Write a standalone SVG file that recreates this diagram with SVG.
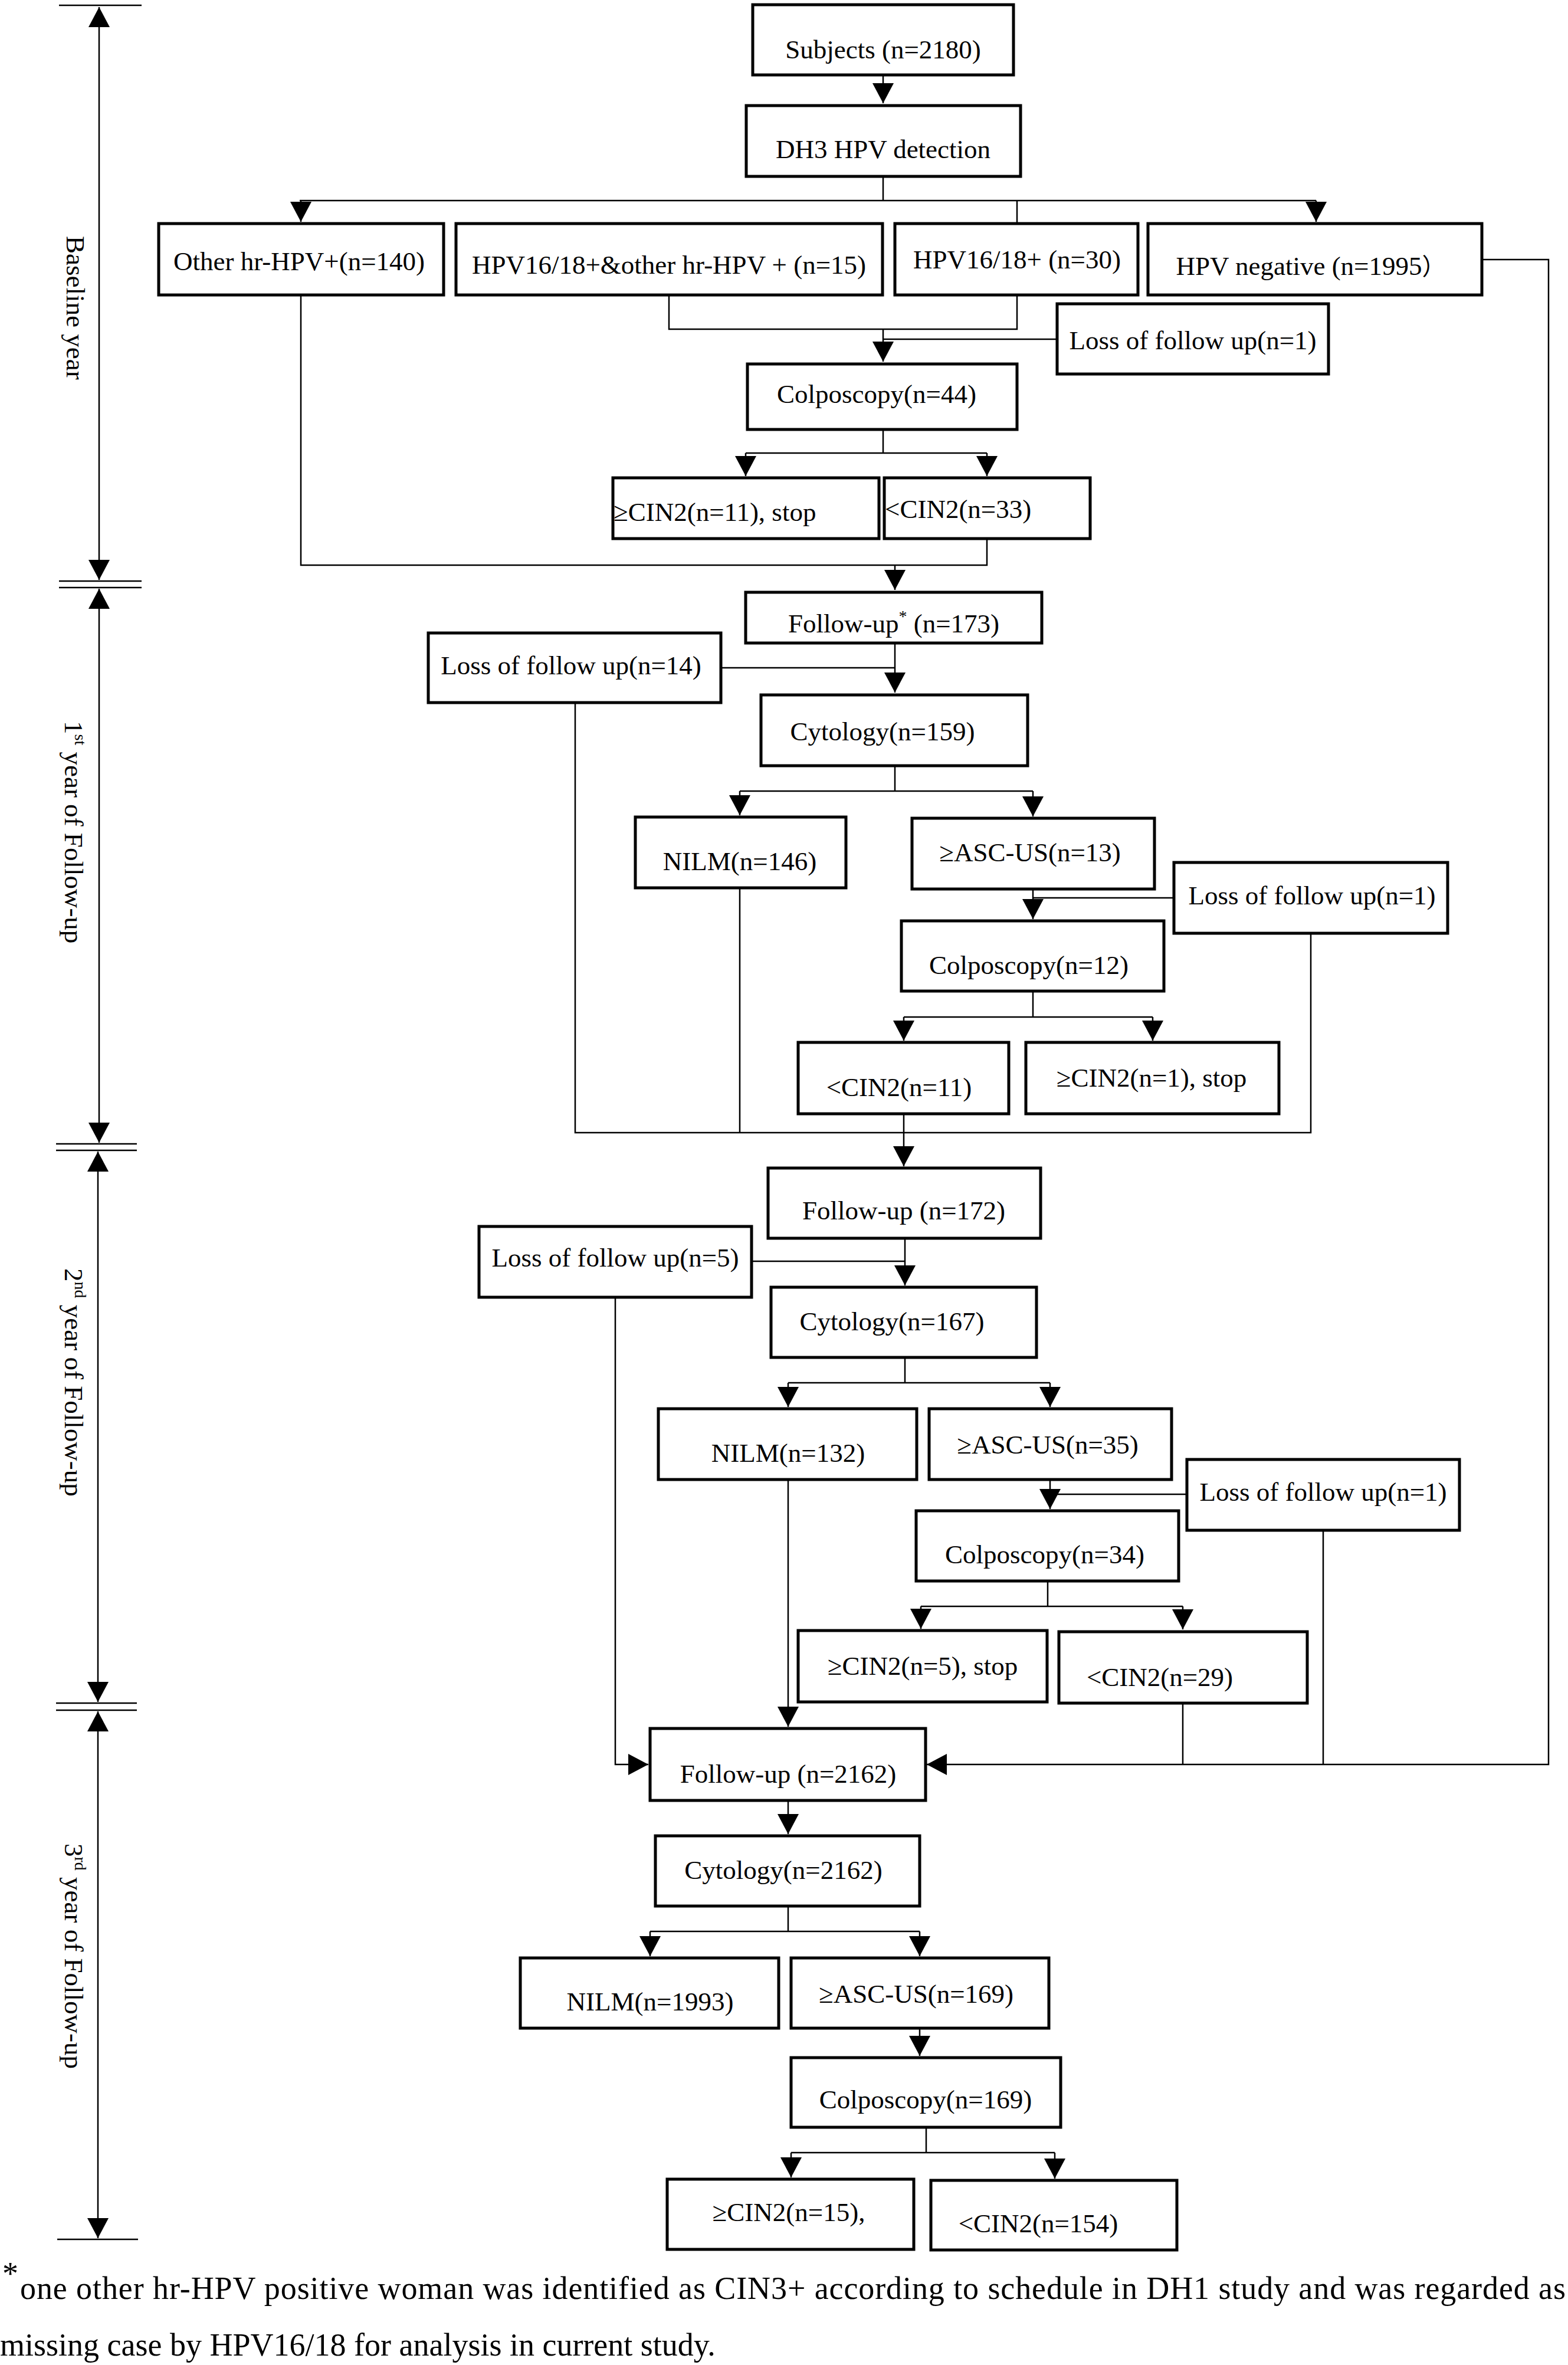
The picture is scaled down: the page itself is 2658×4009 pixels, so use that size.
<svg xmlns="http://www.w3.org/2000/svg" width="2658" height="4009" viewBox="0 0 2658 4009">
<defs>
<marker id="ah" markerUnits="userSpaceOnUse" markerWidth="34" markerHeight="36" refX="34" refY="18" orient="auto-start-reverse" viewBox="0 0 34 36">
<path d="M0,0 L34,18 L0,36 Z" fill="#000"/>
</marker>
<style>
.box{fill:#fff;stroke:#000;stroke-width:5}
.t{font-family:"Liberation Serif","Times New Roman",serif;font-size:45px;fill:#000}
.c{text-anchor:middle}
.ln{fill:none;stroke:#000;stroke-width:2.5}
.ar{fill:none;stroke:#000;stroke-width:2.5;marker-end:url(#ah)}
.tl{fill:none;stroke:#000;stroke-width:2.5;marker-start:url(#ah);marker-end:url(#ah)}
.fn{font-family:"Liberation Serif","Times New Roman",serif;font-size:54px;fill:#000}
</style>
</defs>
<rect width="2658" height="4009" fill="#fff"/>

<g id="timeline">
<line class="ln" x1="100" y1="9" x2="240" y2="9"/>
<line class="tl" x1="168" y1="12" x2="168" y2="983"/>
<line class="ln" x1="100" y1="985" x2="240" y2="985"/>
<line class="ln" x1="100" y1="996" x2="240" y2="996"/>
<line class="tl" x1="168" y1="998" x2="168" y2="1937"/>
<line class="ln" x1="95" y1="1939" x2="232" y2="1939"/>
<line class="ln" x1="95" y1="1950" x2="232" y2="1950"/>
<line class="tl" x1="166" y1="1952" x2="166" y2="2885"/>
<line class="ln" x1="95" y1="2887" x2="232" y2="2887"/>
<line class="ln" x1="95" y1="2899" x2="232" y2="2899"/>
<line class="tl" x1="166" y1="2901" x2="166" y2="3794"/>
<line class="ln" x1="97" y1="3796" x2="234" y2="3796"/>
<text class="t" transform="translate(113,400) rotate(90)">Baseline year</text>
<text class="t" transform="translate(110,1222) rotate(90)">1<tspan font-size="28" dy="-17">st</tspan><tspan dy="17"> year of Follow-up</tspan></text>
<text class="t" transform="translate(110,2150) rotate(90)">2<tspan font-size="28" dy="-17">nd</tspan><tspan dy="17"> year of Follow-up</tspan></text>
<text class="t" transform="translate(110,3125) rotate(90)">3<tspan font-size="28" dy="-17">rd</tspan><tspan dy="17"> year of Follow-up</tspan></text>
</g>

<g id="connectors">
<!-- baseline -->
<line class="ar" x1="1497" y1="129" x2="1497" y2="175"/>
<line class="ln" x1="1497" y1="301" x2="1497" y2="340"/>
<line class="ln" x1="508" y1="340" x2="2231" y2="340"/>
<line class="ar" x1="510" y1="340" x2="510" y2="376"/>
<line class="ar" x1="2231" y1="340" x2="2231" y2="376"/>
<line class="ln" x1="1724" y1="340" x2="1724" y2="377"/>
<polyline class="ln" points="1134,502 1134,558 1724,558 1724,502"/>
<line class="ar" x1="1497" y1="558" x2="1497" y2="613"/>
<line class="ln" x1="1790" y1="575" x2="1497" y2="575"/>
<line class="ln" x1="1497" y1="730" x2="1497" y2="768"/>
<line class="ln" x1="1264" y1="768" x2="1673" y2="768"/>
<line class="ar" x1="1264" y1="768" x2="1264" y2="807"/>
<line class="ar" x1="1673" y1="768" x2="1673" y2="807"/>
<polyline class="ln" points="510,502 510,958 1673,958 1673,915"/>
<line class="ar" x1="1517" y1="958" x2="1517" y2="1000"/>
<polyline class="ar" points="2514,440 2625,440 2625,2991 1571,2991"/>
<!-- 1st year -->
<line class="ar" x1="1517" y1="1092" x2="1517" y2="1174"/>
<line class="ln" x1="1224" y1="1132" x2="1517" y2="1132"/>
<line class="ln" x1="1517" y1="1300" x2="1517" y2="1341"/>
<line class="ln" x1="1254" y1="1341" x2="1751" y2="1341"/>
<line class="ar" x1="1254" y1="1341" x2="1254" y2="1382"/>
<line class="ar" x1="1751" y1="1341" x2="1751" y2="1384"/>
<line class="ar" x1="1751" y1="1509" x2="1751" y2="1558"/>
<line class="ln" x1="1988" y1="1522" x2="1751" y2="1522"/>
<line class="ln" x1="1751" y1="1682" x2="1751" y2="1724"/>
<line class="ln" x1="1532" y1="1724" x2="1954" y2="1724"/>
<line class="ar" x1="1532" y1="1724" x2="1532" y2="1764"/>
<line class="ar" x1="1954" y1="1724" x2="1954" y2="1764"/>
<polyline class="ln" points="975,1193 975,1920 2222,1920 2222,1584"/>
<line class="ln" x1="1254" y1="1507" x2="1254" y2="1920"/>
<line class="ar" x1="1532" y1="1890" x2="1532" y2="1977"/>
<!-- 2nd year -->
<line class="ar" x1="1534" y1="2101" x2="1534" y2="2179"/>
<line class="ln" x1="1276" y1="2138" x2="1534" y2="2138"/>
<line class="ln" x1="1534" y1="2303" x2="1534" y2="2344"/>
<line class="ln" x1="1336" y1="2344" x2="1780" y2="2344"/>
<line class="ar" x1="1336" y1="2344" x2="1336" y2="2385"/>
<line class="ar" x1="1780" y1="2344" x2="1780" y2="2385"/>
<line class="ar" x1="1780" y1="2510" x2="1780" y2="2558"/>
<line class="ln" x1="2010" y1="2533" x2="1780" y2="2533"/>
<line class="ln" x1="1776" y1="2682" x2="1776" y2="2723"/>
<line class="ln" x1="1561" y1="2723" x2="2005" y2="2723"/>
<line class="ar" x1="1561" y1="2723" x2="1561" y2="2761"/>
<line class="ar" x1="2005" y1="2723" x2="2005" y2="2762"/>
<line class="ar" x1="1336" y1="2510" x2="1336" y2="2927"/>
<polyline class="ar" points="1043,2201 1043,2991 1099,2991"/>
<line class="ln" x1="2005" y1="2889" x2="2005" y2="2991"/>
<line class="ln" x1="2243" y1="2596" x2="2243" y2="2991"/>
<!-- 3rd year -->
<line class="ar" x1="1336" y1="3054" x2="1336" y2="3109"/>
<line class="ln" x1="1336" y1="3233" x2="1336" y2="3274"/>
<line class="ln" x1="1102" y1="3274" x2="1559" y2="3274"/>
<line class="ar" x1="1102" y1="3274" x2="1102" y2="3316"/>
<line class="ar" x1="1559" y1="3274" x2="1559" y2="3316"/>
<line class="ar" x1="1559" y1="3440" x2="1559" y2="3485"/>
<line class="ln" x1="1570" y1="3608" x2="1570" y2="3649"/>
<line class="ln" x1="1341" y1="3649" x2="1788" y2="3649"/>
<line class="ar" x1="1341" y1="3649" x2="1341" y2="3691"/>
<line class="ar" x1="1788" y1="3649" x2="1788" y2="3693"/>
</g>

<g id="n-subjects"><rect class="box" x="1276" y="8" width="442" height="119"/><text class="t c" x="1497" y="99">Subjects (n=2180)</text></g>
<g id="n-dh3"><rect class="box" x="1265" y="179" width="465" height="120"/><text class="t c" x="1497" y="268">DH3 HPV detection</text></g>
<g id="n-otherhr"><rect class="box" x="269" y="379" width="483" height="121"/><text class="t c" x="507" y="458">Other hr-HPV+(n=140)</text></g>
<g id="n-mixed"><rect class="box" x="773" y="379" width="723" height="121"/><text class="t c" x="1134" y="464">HPV16/18+&amp;other hr-HPV + (n=15)</text></g>
<g id="n-hpv1618"><rect class="box" x="1517" y="379" width="412" height="121"/><text class="t c" x="1724" y="455">HPV16/18+ (n=30)</text></g>
<g id="n-neg"><rect class="box" x="1946" y="379" width="566" height="121"/><text class="t c" x="2222" y="466">HPV negative (n=1995<tspan font-family="'Noto Sans CJK SC',sans-serif" font-size="40">）</tspan></text></g>
<g id="n-loss0"><rect class="box" x="1792" y="515" width="460" height="119"/><text class="t c" x="2022" y="592">Loss of follow up(n=1)</text></g>
<g id="n-colp0"><rect class="box" x="1267" y="617" width="457" height="111"/><text class="t c" x="1486" y="683">Colposcopy(n=44)</text></g>
<g id="n-cin2a"><rect class="box" x="1039" y="810" width="451" height="103"/><text class="t" x="1040" y="883">≥CIN2(n=11), stop</text></g>
<g id="n-lcin2a"><rect class="box" x="1499" y="810" width="349" height="103"/><text class="t" x="1500" y="878">&lt;CIN2(n=33)</text></g>

<g id="n-fu1"><rect class="box" x="1264" y="1004" width="502" height="86"/><text class="t c" x="1515" y="1072">Follow-up<tspan font-size="28" dy="-18">*</tspan><tspan dy="18"> (n=173)</tspan></text></g>
<g id="n-loss1"><rect class="box" x="726" y="1073" width="496" height="118"/><text class="t c" x="968" y="1143">Loss of follow up(n=14)</text></g>
<g id="n-cyt1"><rect class="box" x="1290" y="1178" width="452" height="120"/><text class="t c" x="1496" y="1255">Cytology(n=159)</text></g>
<g id="n-nilm1"><rect class="box" x="1077" y="1385" width="357" height="120"/><text class="t c" x="1254" y="1475">NILM(n=146)</text></g>
<g id="n-asc1"><rect class="box" x="1546" y="1387" width="411" height="120"/><text class="t c" x="1746" y="1460">≥ASC-US(n=13)</text></g>
<g id="n-loss1b"><rect class="box" x="1990" y="1462" width="464" height="120"/><text class="t c" x="2224" y="1533">Loss of follow up(n=1)</text></g>
<g id="n-colp1"><rect class="box" x="1528" y="1561" width="445" height="119"/><text class="t c" x="1744" y="1651">Colposcopy(n=12)</text></g>
<g id="n-lcin2b"><rect class="box" x="1353" y="1767" width="357" height="121"/><text class="t c" x="1524" y="1858">&lt;CIN2(n=11)</text></g>
<g id="n-cin2b"><rect class="box" x="1739" y="1767" width="429" height="121"/><text class="t c" x="1952" y="1842">≥CIN2(n=1), stop</text></g>

<g id="n-fu2"><rect class="box" x="1302" y="1980" width="462" height="119"/><text class="t c" x="1532" y="2067">Follow-up (n=172)</text></g>
<g id="n-loss2"><rect class="box" x="812" y="2079" width="462" height="120"/><text class="t c" x="1043" y="2147">Loss of follow up(n=5)</text></g>
<g id="n-cyt2"><rect class="box" x="1307" y="2182" width="450" height="119"/><text class="t c" x="1512" y="2255">Cytology(n=167)</text></g>
<g id="n-nilm2"><rect class="box" x="1116" y="2388" width="438" height="120"/><text class="t c" x="1336" y="2478">NILM(n=132)</text></g>
<g id="n-asc2"><rect class="box" x="1575" y="2388" width="411" height="120"/><text class="t c" x="1776" y="2464">≥ASC-US(n=35)</text></g>
<g id="n-loss2b"><rect class="box" x="2012" y="2474" width="462" height="120"/><text class="t c" x="2243" y="2544">Loss of follow up(n=1)</text></g>
<g id="n-colp2"><rect class="box" x="1553" y="2561" width="445" height="119"/><text class="t c" x="1771" y="2650">Colposcopy(n=34)</text></g>
<g id="n-cin2c"><rect class="box" x="1353" y="2764" width="422" height="121"/><text class="t c" x="1564" y="2839">≥CIN2(n=5), stop</text></g>
<g id="n-lcin2c"><rect class="box" x="1795" y="2766" width="421" height="121"/><text class="t c" x="1966" y="2858">&lt;CIN2(n=29)</text></g>

<g id="n-fu3"><rect class="box" x="1102" y="2930" width="467" height="122"/><text class="t c" x="1336" y="3022">Follow-up (n=2162)</text></g>
<g id="n-cyt3"><rect class="box" x="1111" y="3112" width="448" height="119"/><text class="t c" x="1328" y="3185">Cytology(n=2162)</text></g>
<g id="n-nilm3"><rect class="box" x="882" y="3319" width="438" height="119"/><text class="t c" x="1102" y="3408">NILM(n=1993)</text></g>
<g id="n-asc3"><rect class="box" x="1341" y="3319" width="437" height="119"/><text class="t c" x="1553" y="3395">≥ASC-US(n=169)</text></g>
<g id="n-colp3"><rect class="box" x="1341" y="3488" width="457" height="118"/><text class="t c" x="1569" y="3574">Colposcopy(n=169)</text></g>
<g id="n-cin2d"><rect class="box" x="1131" y="3694" width="418" height="119"/><text class="t c" x="1337" y="3765">≥CIN2(n=15),</text></g>
<g id="n-lcin2d"><rect class="box" x="1578" y="3696" width="417" height="118"/><text class="t c" x="1760" y="3784">&lt;CIN2(n=154)</text></g>

<g id="footnote">
<text class="fn" x="4" y="3872" font-size="34">*</text>
<text class="fn" x="34" y="3897" textLength="2620" lengthAdjust="spacing">one other hr-HPV positive woman was identified as CIN3+ according to schedule in DH1 study and was regarded as</text>
<text class="fn" x="0" y="3993">missing case by HPV16/18 for analysis in current study.</text>
</g>
</svg>
